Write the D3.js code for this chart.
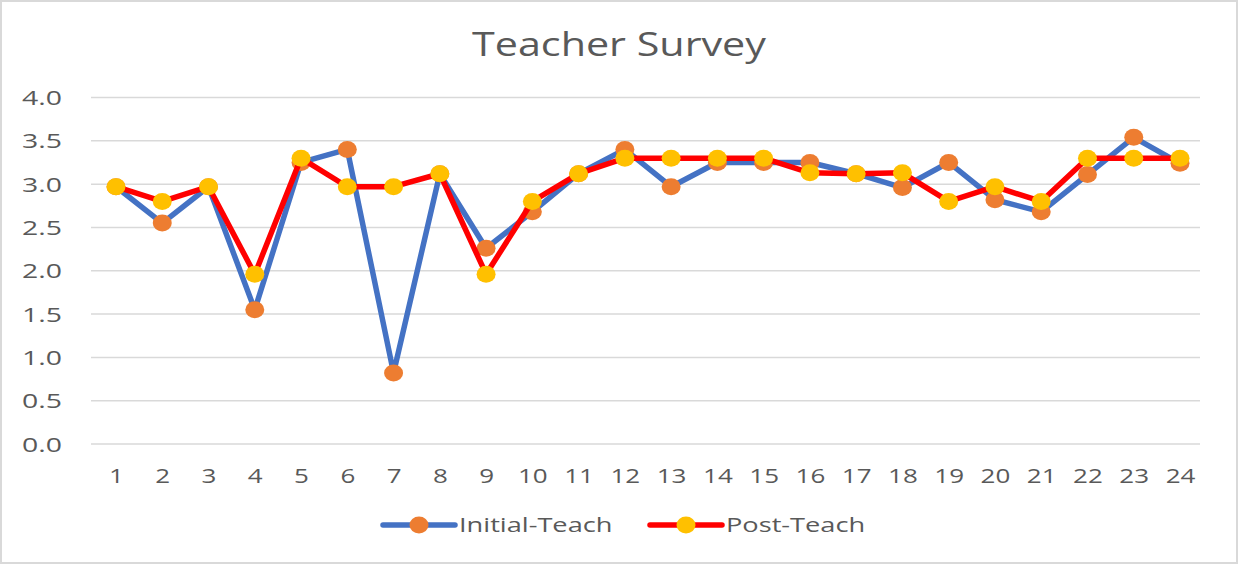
<!DOCTYPE html>
<html><head><meta charset="utf-8">
<script src="https://cdn.jsdelivr.net/npm/d3@7"></script>
<style>body{margin:0;background:#fff}svg{display:block}</style>
</head><body><div id="chart"></div>
<script>
const categories = ["1","2","3","4","5","6","7","8","9","10","11","12","13","14","15","16","17","18","19","20","21","22","23","24"];
const initialTeach = [2.97,2.55,2.97,1.55,3.25,3.40,0.82,3.12,2.26,2.68,3.12,3.40,2.97,3.25,3.25,3.25,3.12,2.96,3.25,2.82,2.68,3.11,3.54,3.24];
const postTeach = [2.97,2.80,2.97,1.96,3.30,2.97,2.97,3.12,1.96,2.80,3.12,3.30,3.30,3.30,3.30,3.13,3.12,3.13,2.80,2.97,2.80,3.30,3.30,3.30];
const yTicks = [0,0.5,1,1.5,2,2.5,3,3.5,4];
const seriesNames = ["Initial-Teach","Post-Teach"];

const W = 1238, H = 564;
const svg = d3.select("#chart").append("svg").attr("width", W).attr("height", H);
svg.append("rect").attr("x",1).attr("y",1).attr("width",W-2).attr("height",H-2)
  .attr("fill","#fff").attr("stroke","#d9d9d9").attr("stroke-width",2);

const x = d3.scalePoint().domain(categories).range([116,1180]);
const y = d3.scaleLinear().domain([0,4]).range([444,97.5]);
const font = "'Open Sans', 'Noto Sans', sans-serif";
const txt = "#595959";

// gridlines
svg.append("g").selectAll("line").data(yTicks).join("line")
  .attr("x1",91).attr("x2",1200).attr("y1",d=>y(d)).attr("y2",d=>y(d))
  .attr("stroke","#d9d9d9").attr("stroke-width",1.5);

// y axis
const ya = svg.append("g").attr("transform","translate(62,0)")
  .call(d3.axisLeft(y).tickValues(yTicks).tickFormat(d3.format(".1f")).tickSize(0).tickPadding(0));
ya.select(".domain").remove();
ya.selectAll("text").attr("font-family",font).attr("font-size",20).attr("fill",txt).attr("dy","0.35em")
  .attr("transform","scale(1.42,1)");

// x axis
const xa = svg.append("g").attr("transform","translate(0,476)")
  .call(d3.axisBottom(x).tickSize(0).tickPadding(0));
xa.select(".domain").remove();
xa.selectAll("text").attr("font-family",font).attr("font-size",20).attr("fill",txt).attr("dy","0.35em")
  .attr("transform","scale(1.3,1)");

// title
svg.append("text").attr("transform","translate(619,56) scale(1.29,1)").attr("text-anchor","middle")
  .attr("font-family",font).attr("font-size",32).attr("fill",txt).text("Teacher Survey");

const line = d3.line().x((d,i)=>x(categories[i])).y(d=>y(d));
const series = [
  {name:seriesNames[0], values:initialTeach, lc:"#4472C4", mc:"#ED7D31"},
  {name:seriesNames[1], values:postTeach, lc:"#FF0000", mc:"#FFC000"}
];
series.forEach(s=>{
  svg.append("path").datum(s.values).attr("d",line).attr("fill","none")
    .attr("stroke",s.lc).attr("stroke-width",5.5).attr("stroke-linejoin","round");
  svg.append("g").selectAll("ellipse").data(s.values).join("ellipse")
    .attr("cx",(d,i)=>x(categories[i])).attr("cy",d=>y(d)).attr("rx",9.5).attr("ry",8.5)
    .attr("fill",s.mc);
});

// legend
const leg = [{x0:383, tx:459}, {x0:650, tx:726}];
series.forEach((s,i)=>{
  const g = svg.append("g");
  g.append("line").attr("x1",leg[i].x0).attr("x2",leg[i].x0+72).attr("y1",525).attr("y2",525)
    .attr("stroke",s.lc).attr("stroke-width",5.5).attr("stroke-linecap","round");
  g.append("ellipse").attr("cx",leg[i].x0+36).attr("cy",525).attr("rx",9.5).attr("ry",8.5).attr("fill",s.mc);
  g.append("text").attr("transform",`translate(${leg[i].tx},525) scale(1.36,1)`).attr("dy","0.35em")
    .attr("font-family",font).attr("font-size",20).attr("fill",txt).text(s.name);
});
</script></body></html>
